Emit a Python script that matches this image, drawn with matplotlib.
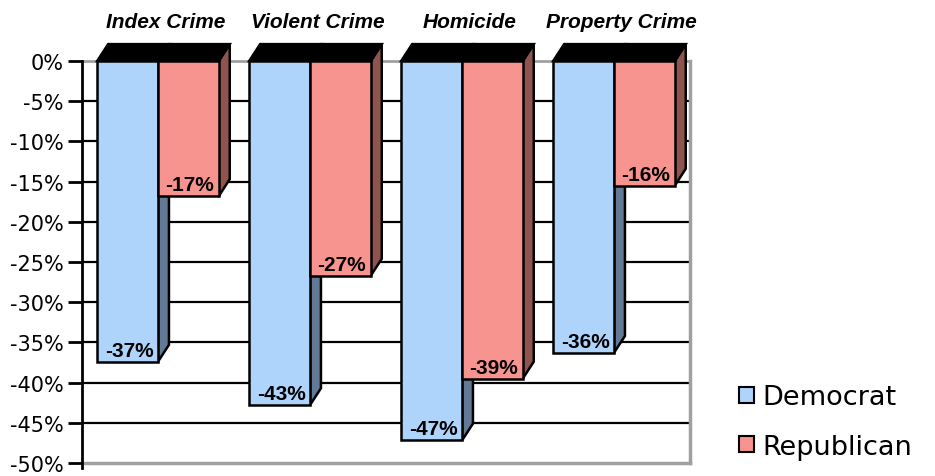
import matplotlib
matplotlib.use("Agg")
import matplotlib.pyplot as plt
from matplotlib.patches import Polygon, Patch
import numpy as np

categories = ["Index Crime", "Violent Crime", "Homicide", "Property Crime"]
democrat = [-37.4, -42.8, -47.2, -36.3]
republican = [-16.8, -26.7, -39.5, -15.5]
dem_labels = ["-37%", "-43%", "-47%", "-36%"]
rep_labels = ["-17%", "-27%", "-39%", "-16%"]
yticks = [0, -5, -10, -15, -20, -25, -30, -35, -40, -45, -50]

DEM_FRONT, DEM_SIDE = "#aed4fc", "#627a96"
REP_FRONT, REP_SIDE = "#f89490", "#8f5350"
BAR_W = 0.4
DX, DY = 0.072, 2.1  # 3d depth offset in data units

fig = plt.figure(figsize=(9.35, 4.77), dpi=100)
ax = fig.add_axes([82 / 935, 13 / 477, 608 / 935, 402 / 477])
ax.set_xlim(-0.5, 3.5)
ax.set_ylim(-50, 0)

# back wall grid
for y in yticks[1:-1]:
    ax.plot([-0.5, 3.5], [y, y], color="black", lw=1.6, zorder=1)
ax.plot([-0.5, 3.5], [0, 0], color="#a0a0a0", lw=2, zorder=1, clip_on=False)
ax.plot([-0.5, 3.5], [-50, -50], color="#a0a0a0", lw=2.5, zorder=1, clip_on=False)
ax.plot([3.5, 3.5], [-50, 0], color="#a0a0a0", lw=2.5, zorder=1, clip_on=False)


def bar3d(x0, v, front, side, z):
    x1 = x0 + BAR_W
    kw = dict(edgecolor="black", lw=1.8, joinstyle="miter", clip_on=False, zorder=z)
    ax.add_patch(Polygon([(x1, 0), (x1 + DX, DY), (x1 + DX, v + DY), (x1, v)],
                         facecolor=side, **kw))
    ax.add_patch(Polygon([(x0, 0), (x0 + DX, DY), (x1 + DX, DY), (x1, 0)],
                         facecolor="black", **kw))
    ax.add_patch(Polygon([(x0, 0), (x1, 0), (x1, v), (x0, v)],
                         facecolor=front, **kw))


for i in range(len(categories)):
    xd = i - BAR_W
    xr = i
    bar3d(xd, democrat[i], DEM_FRONT, DEM_SIDE, 2 + i * 2)
    bar3d(xr, republican[i], REP_FRONT, REP_SIDE, 3 + i * 2)
    ax.text(xd + BAR_W / 2 + 0.01, democrat[i] + 0.25, dem_labels[i], ha="center",
            va="bottom", fontsize=15, fontweight="bold", family="Liberation Sans",
            zorder=20)
    ax.text(xr + BAR_W / 2 + 0.01, republican[i] + 0.25, rep_labels[i], ha="center",
            va="bottom", fontsize=15, fontweight="bold", family="Liberation Sans",
            zorder=20)
    ax.text(i + 0.05, 4.9, categories[i], ha="center", va="center", fontsize=15,
            fontweight="bold", fontstyle="italic", family="Liberation Sans")

ax.set_yticks(yticks)
ax.set_yticklabels([f"{t}%" for t in yticks], fontsize=15)
ax.set_xticks([])
ax.tick_params(axis="y", length=10, width=2, pad=3)
for s in ["top", "right", "bottom"]:
    ax.spines[s].set_visible(False)
ax.spines["left"].set_linewidth(2)
ax.spines["left"].set_zorder(30)
ax.spines["left"].set_bounds(-50.6, 0)

handles = [Patch(facecolor=DEM_FRONT, edgecolor="black", lw=1.5),
           Patch(facecolor=REP_FRONT, edgecolor="black", lw=1.5)]
fig.legend(handles, ["Democrat", "Republican"], loc="center left",
           bbox_to_anchor=(715 / 935, (477 - 423) / 477), frameon=False,
           fontsize=19.5, handlelength=0.55, handleheight=0.55, handletextpad=0.3,
           labelspacing=0.85)

plt.savefig("out.png", dpi=100)
